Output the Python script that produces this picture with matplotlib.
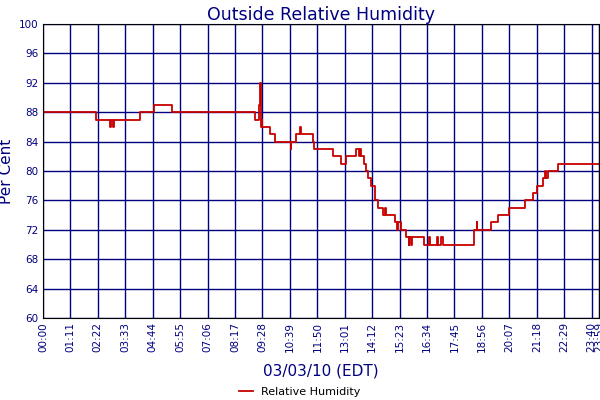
import matplotlib
matplotlib.use("Agg")
import matplotlib.pyplot as plt

# step series: (minute of day, value)
minutes = [0, 136, 173, 176, 180, 183, 191, 251, 255, 287, 335, 548, 560, 562, 564, 566, 568, 575, 588, 601,
           641, 643, 654, 665, 667, 699, 702, 729, 750, 772, 785, 811, 818, 820, 824, 832, 836, 841, 850, 858,
           867, 879, 885, 887, 910, 915, 918, 927, 940, 946, 948, 952, 955, 987, 1000, 1002, 1020, 1022, 1030,
           1036, 1041, 1116, 1122, 1124, 1159, 1178, 1207, 1248, 1267, 1278, 1293, 1300, 1302, 1306, 1332, 1439]
values = [88, 87, 86, 87, 86, 87, 87, 88, 88, 89, 88, 87, 89, 92, 86, 87, 86, 86, 85, 84,
          83, 84, 85, 86, 85, 84, 83, 83, 82, 81, 82, 83, 82, 83, 82, 81, 80, 79, 78, 76,
          75, 74, 75, 74, 73, 72, 73, 72, 71, 70, 71, 70, 71, 70, 71, 70, 71, 70, 71,
          70, 70, 72, 73, 72, 73, 74, 75, 76, 77, 78, 79, 80, 79, 80, 81, 81]

xticks = list(range(0, 1421, 71)) + [1439]
xlabels = ["%02d:%02d" % (t // 60, t % 60) for t in xticks]
yticks = list(range(60, 101, 4))

navy = "#000080"
fig = plt.figure(figsize=(6, 4), dpi=100)
ax = fig.add_axes([43/600, 82/400, 556/600, 294/400])
ax.step(minutes, values, where="post", color="#c80000", lw=1.3, label="Relative Humidity")
ax.set_xlim(0, 1439)
ax.set_ylim(60, 100)
ax.set_xticks(xticks)
ax.set_xticklabels(xlabels, rotation=90, fontsize=7.5, color=navy)
ax.set_yticks(yticks)
ax.set_yticklabels([str(v) for v in yticks], fontsize=7.5, color=navy)
ax.grid(True, color=navy, lw=1)
ax.tick_params(length=0, pad=3)
for s in ax.spines.values():
    s.set_color("black")
ax.set_title("Outside Relative Humidity", color=navy, fontsize=12.5, pad=3)
ax.set_ylabel("Per Cent", color=navy, fontsize=11)
ax.set_xlabel("03/03/10 (EDT)", color=navy, fontsize=11, labelpad=8)
fig.legend(loc="center", bbox_to_anchor=(0.5, 8/400), frameon=False, fontsize=8, handlelength=1.2)
fig.savefig("out.png", dpi=100)
